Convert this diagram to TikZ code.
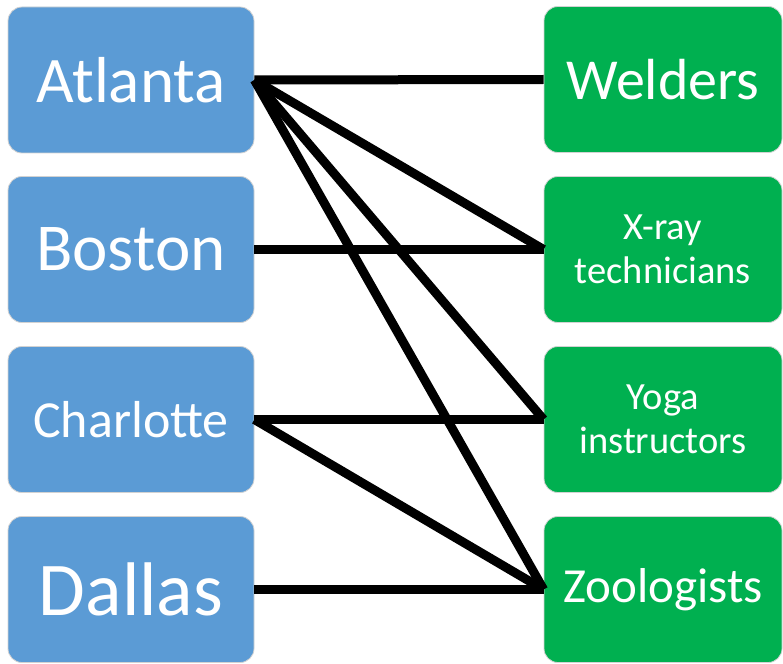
\documentclass[tikz,border=0pt]{standalone}
\usepackage{fontspec}
\setmainfont{Carlito}
\usepackage{tikz}

\definecolor{cityblue}{HTML}{5B9BD5}
\definecolor{jobgreen}{HTML}{00B050}

\begin{document}
\begin{tikzpicture}[x=1pt,y=-1pt,
    city/.style={rectangle,rounded corners=14pt,fill=cityblue,draw=gray!35,line width=0.8pt,
      text=white,minimum width=246pt,minimum height=146pt,inner sep=0pt,align=center},
    job/.style={rectangle,rounded corners=14pt,fill=jobgreen,draw=gray!35,line width=0.8pt,
      text=white,minimum width=238pt,minimum height=146pt,inner sep=0pt,align=center},
    link/.style={line width=9pt,black}]
      \useasboundingbox (0,0) rectangle (783,663);
      \node[city,font=\fontsize{65}{65}\selectfont] (atl) at (131,80) {Atlanta};
      \node[city,font=\fontsize{67}{67}\selectfont] (bos) at (131,249.5) {Boston};
      \node[city,font=\fontsize{52}{52}\selectfont] (cha) at (131,419.5) {Charlotte};
      \node[city,font=\fontsize{76}{76}\selectfont] (dal) at (131,589.5) {Dallas};
      \node[job,font=\fontsize{58}{58}\selectfont] (wel) at (663,79.5) {Welders};
      \node[job,font=\fontsize{38.5}{44}\selectfont] (xray) at (663,249.5) {X-ray\\technicians};
      \node[job,font=\fontsize{38.5}{44}\selectfont] (yoga) at (663,419.5) {Yoga\\instructors};
      \node[job,font=\fontsize{49}{49}\selectfont] (zoo) at (663,589.5) {Zoologists};
      \draw[link] (atl.east) -- (wel.west);
      \draw[link] (atl.east) -- (xray.west);
      \draw[link] (atl.east) -- (yoga.west);
      \draw[link] (atl.east) -- (zoo.west);
      \draw[link] (bos.east) -- (xray.west);
      \draw[link] (cha.east) -- (yoga.west);
      \draw[link] (cha.east) -- (zoo.west);
      \draw[link] (dal.east) -- (zoo.west);
\end{tikzpicture}
\end{document}
